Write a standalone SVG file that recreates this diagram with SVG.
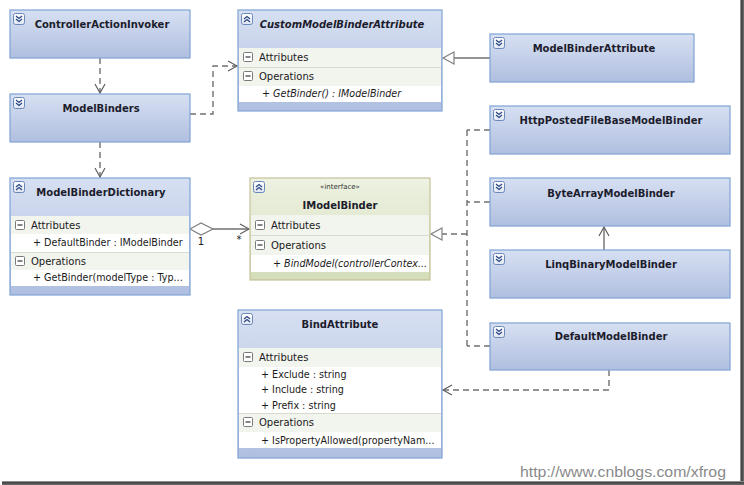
<svg xmlns="http://www.w3.org/2000/svg" width="744" height="485" viewBox="0 0 744 485">
<defs>
<linearGradient id="gc" x1="0" y1="0" x2="0" y2="1">
<stop offset="0" stop-color="#d7e0f2"/><stop offset="1" stop-color="#b0bfe0"/>
</linearGradient>
<linearGradient id="gi" x1="0" y1="0" x2="0" y2="1">
<stop offset="0" stop-color="#eef2e2"/><stop offset="1" stop-color="#d3ddb9"/>
</linearGradient>
<linearGradient id="gicon" x1="0" y1="0" x2="0" y2="1">
<stop offset="0" stop-color="#ffffff"/><stop offset="1" stop-color="#dfe6f3"/>
</linearGradient>
<linearGradient id="shr" x1="0" y1="0" x2="1" y2="0">
<stop offset="0" stop-color="#b0b0b0"/><stop offset="0.4" stop-color="#404040"/><stop offset="1" stop-color="#707070"/>
</linearGradient>
<linearGradient id="shb" x1="0" y1="0" x2="0" y2="1">
<stop offset="0" stop-color="#b0b0b0"/><stop offset="0.4" stop-color="#404040"/><stop offset="1" stop-color="#707070"/>
</linearGradient>
<marker id="open" markerUnits="userSpaceOnUse" markerWidth="12" markerHeight="12" refX="9" refY="5" orient="auto" overflow="visible">
<path d="M0,0 L9,5 L0,10" fill="none" stroke="#606060" stroke-width="1.2" stroke-dasharray="none"/>
</marker>
<marker id="tri" markerUnits="userSpaceOnUse" markerWidth="14" markerHeight="14" refX="11" refY="6" orient="auto" overflow="visible">
<path d="M0,0 L11,6 L0,12 Z" fill="#ffffff" stroke="#808080" stroke-width="1.2" stroke-dasharray="none"/>
</marker>
<marker id="dia" markerUnits="userSpaceOnUse" markerWidth="26" markerHeight="12" refX="0" refY="6" orient="auto" overflow="visible">
<path d="M0,6 L11,0 L23,6 L11,12 Z" fill="#ffffff" stroke="#808080" stroke-width="1.2"/>
</marker>
<g id="iconDown">
<rect x="0.5" y="0.5" width="11" height="11" rx="2" fill="url(#gicon)" stroke="#6a88b8"/>
<path d="M3,3 L6,5.5 L9,3 M3,6 L6,8.5 L9,6" fill="none" stroke="#2a4580" stroke-width="1.2"/>
</g>
<g id="iconUp">
<rect x="0.5" y="0.5" width="11" height="11" rx="2" fill="url(#gicon)" stroke="#6a88b8"/>
<path d="M3,6 L6,3.5 L9,6 M3,9 L6,6.5 L9,9" fill="none" stroke="#2a4580" stroke-width="1.2"/>
</g>
<g id="minus">
<rect x="0.5" y="0.5" width="9" height="9" rx="1" fill="#ffffff" stroke="#7a7a7a"/>
<path d="M2.5,5 H7.5" stroke="#333" stroke-width="1.2"/>
</g>
</defs>
<style>
.cls{fill:url(#gc);stroke:#7fa3d4;stroke-width:1.2}
.ifc{fill:url(#gi);stroke:#c6c29a;stroke-width:1.2}
.hdr{fill:#f2f4ee}
.mem{fill:#ffffff}
.sep{stroke:#d5dccc;stroke-width:1}
.t{font-family:"DejaVu Sans",Verdana,sans-serif;font-size:10px;font-weight:bold;fill:#1c1c2c;text-anchor:middle}
.ti{font-style:italic}
.h{font-family:"DejaVu Sans",Verdana,sans-serif;font-size:10px;fill:#1a1a1a}
.m{font-family:"DejaVu Sans",Verdana,sans-serif;font-size:9.6px;fill:#1a1a1a}
.mi{font-style:italic}
.st{font-family:"DejaVu Sans",Verdana,sans-serif;font-size:7px;fill:#333;text-anchor:middle}
.lbl{font-family:"DejaVu Sans",Verdana,sans-serif;font-size:10px;fill:#1a1a1a;text-anchor:middle}
.dash{fill:none;stroke:#707070;stroke-width:1.4;stroke-dasharray:6,4}
.solid{fill:none;stroke:#707070;stroke-width:1.4}
.wm{font-family:"Liberation Sans",Arial,sans-serif;font-size:15px;fill:#8a8a8a}
</style>
<rect x="0" y="0" width="744" height="485" fill="#ffffff"/>

<g id="connectors">
<path class="dash" d="M100,58 V93" marker-end="url(#open)"/>
<path class="dash" d="M190,114 H213 V66 H237" marker-end="url(#open)"/>
<path class="dash" d="M100,142 V177" marker-end="url(#open)"/>
<path class="solid" d="M490,58 H443" marker-end="url(#tri)"/>
<path class="solid" d="M190,229 H249" marker-start="url(#dia)" marker-end="url(#open)"/>
<text class="lbl" x="201" y="245">1</text>
<text class="lbl" x="239" y="243">*</text>
<path class="dash" d="M490,130 H467 M490,202 H467 M490,346 H467 M467,130 V346"/>
<path class="dash" d="M467,234 H431" marker-end="url(#tri)"/>
<path class="solid" d="M604,250 V227" marker-end="url(#open)"/>
<path class="dash" d="M609,370 V390 H443" marker-end="url(#open)"/>
</g>

<g id="ControllerActionInvoker">
<rect class="cls" x="10" y="10" width="180" height="48"/>
<use href="#iconDown" x="13" y="13"/>
<text class="t" x="102" y="28">ControllerActionInvoker</text>
</g>

<g id="ModelBinders">
<rect class="cls" x="10" y="94" width="180" height="48"/>
<use href="#iconDown" x="13" y="97"/>
<text class="t" x="101" y="112">ModelBinders</text>
</g>

<g id="CustomModelBinderAttribute">
<rect class="cls" x="238" y="10" width="204" height="101"/>
<rect class="hdr" x="239" y="48" width="202" height="19"/>
<rect class="hdr" x="239" y="67" width="202" height="19"/>
<rect class="mem" x="239" y="86" width="202" height="16"/>
<line class="sep" x1="239" y1="67.5" x2="441" y2="67.5"/>
<use href="#iconUp" x="241" y="13"/>
<text class="t ti" x="342" y="28">CustomModelBinderAttribute</text>
<use href="#minus" x="243" y="52"/>
<text class="h" x="259" y="61">Attributes</text>
<use href="#minus" x="243" y="71"/>
<text class="h" x="259" y="80">Operations</text>
<text class="m mi" x="262" y="97">+ GetBinder() : IModelBinder</text>
</g>

<g id="ModelBinderAttribute">
<rect class="cls" x="490" y="34" width="204" height="48"/>
<use href="#iconDown" x="493" y="37"/>
<text class="t" x="594" y="52">ModelBinderAttribute</text>
</g>

<g id="HttpPostedFileBaseModelBinder">
<rect class="cls" x="490" y="106" width="240" height="48"/>
<use href="#iconDown" x="493" y="109"/>
<text class="t" x="611" y="124">HttpPostedFileBaseModelBinder</text>
</g>

<g id="ModelBinderDictionary">
<rect class="cls" x="10" y="178" width="180" height="117"/>
<rect class="hdr" x="11" y="216" width="178" height="18"/>
<rect class="mem" x="11" y="234" width="178" height="18"/>
<rect class="hdr" x="11" y="252" width="178" height="18"/>
<rect class="mem" x="11" y="270" width="178" height="16"/>
<line class="sep" x1="11" y1="252.5" x2="189" y2="252.5"/>
<use href="#iconUp" x="13" y="181"/>
<text class="t" x="101" y="196">ModelBinderDictionary</text>
<use href="#minus" x="15" y="220"/>
<text class="h" x="31" y="229">Attributes</text>
<text class="m" x="33" y="246">+ DefaultBinder : IModelBinder</text>
<use href="#minus" x="15" y="256"/>
<text class="h" x="31" y="265">Operations</text>
<text class="m" x="33" y="281">+ GetBinder(modelType : Typ...</text>
</g>

<g id="IModelBinder">
<rect class="ifc" x="250" y="178" width="180" height="102"/>
<rect class="hdr" x="251" y="215" width="178" height="20"/>
<rect class="hdr" x="251" y="235" width="178" height="20"/>
<rect class="mem" x="251" y="255" width="178" height="17"/>
<line class="sep" x1="251" y1="235.5" x2="429" y2="235.5"/>
<use href="#iconUp" x="253" y="181"/>
<text class="st" x="340" y="189">«interface»</text>
<text class="t" x="340" y="209">IModelBinder</text>
<use href="#minus" x="255" y="220"/>
<text class="h" x="271" y="229">Attributes</text>
<use href="#minus" x="255" y="240"/>
<text class="h" x="271" y="249">Operations</text>
<text class="m mi" x="273" y="267">+ BindModel(controllerContex...</text>
</g>

<g id="ByteArrayModelBinder">
<rect class="cls" x="490" y="178" width="240" height="48"/>
<use href="#iconDown" x="493" y="181"/>
<text class="t" x="611" y="197">ByteArrayModelBinder</text>
</g>

<g id="LinqBinaryModelBinder">
<rect class="cls" x="490" y="250" width="240" height="48"/>
<use href="#iconDown" x="493" y="253"/>
<text class="t" x="611" y="268">LinqBinaryModelBinder</text>
</g>

<g id="DefaultModelBinder">
<rect class="cls" x="490" y="323" width="240" height="47"/>
<use href="#iconDown" x="493" y="326"/>
<text class="t" x="611" y="340">DefaultModelBinder</text>
</g>

<g id="BindAttribute">
<rect class="cls" x="238" y="310" width="204" height="148"/>
<rect class="hdr" x="239" y="348" width="202" height="19"/>
<rect class="mem" x="239" y="367" width="202" height="46"/>
<rect class="hdr" x="239" y="413" width="202" height="19"/>
<rect class="mem" x="239" y="432" width="202" height="16"/>
<line class="sep" x1="239" y1="413.5" x2="441" y2="413.5"/>
<use href="#iconUp" x="241" y="313"/>
<text class="t" x="340" y="328">BindAttribute</text>
<use href="#minus" x="243" y="352"/>
<text class="h" x="259" y="361">Attributes</text>
<text class="m" x="261" y="378">+ Exclude : string</text>
<text class="m" x="261" y="393">+ Include : string</text>
<text class="m" x="261" y="409">+ Prefix : string</text>
<use href="#minus" x="243" y="417"/>
<text class="h" x="259" y="426">Operations</text>
<text class="m" x="261" y="444">+ IsPropertyAllowed(propertyNam...</text>
</g>

<text class="wm" x="520" y="477" textLength="206" lengthAdjust="spacingAndGlyphs">http://www.cnblogs.com/xfrog</text>
<rect x="740" y="0" width="4" height="485" fill="url(#shr)"/>
<rect x="2" y="481" width="742" height="4" fill="url(#shb)"/>
</svg>
